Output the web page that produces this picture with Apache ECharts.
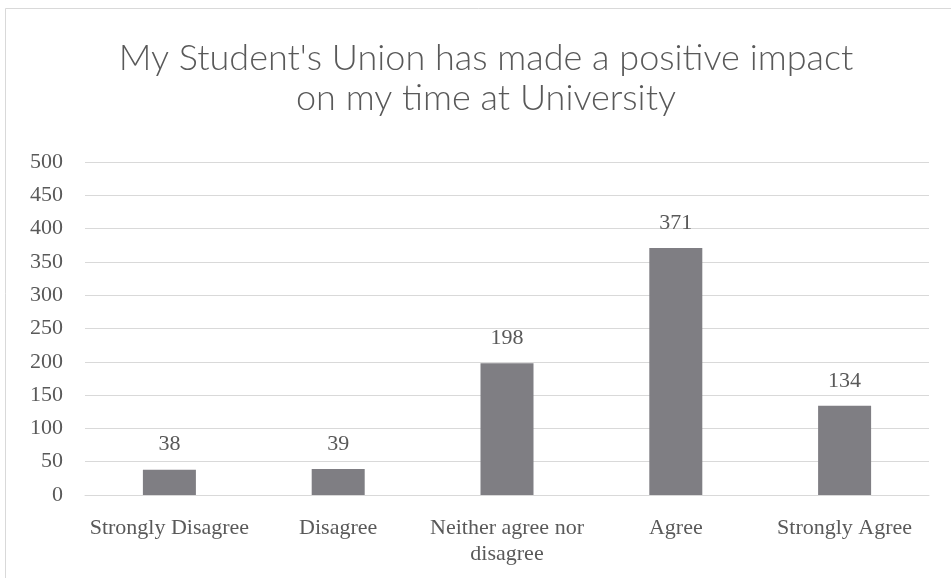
<!DOCTYPE html>
<html><head><meta charset="utf-8">
<script src="https://cdn.jsdelivr.net/npm/echarts@6/dist/echarts.min.js"></script>
<style>html,body{margin:0;padding:0;background:#fff;}#c{width:951px;height:578px;}</style>
</head><body><div id="c"></div>
<script>
const categories = ['Strongly Disagree', 'Disagree', 'Neither agree nor\ndisagree', 'Agree', 'Strongly Agree'];
const values = [38, 39, 198, 371, 134];
const titleText = "My Student's Union has made a positive impact\non my time at University";

const chart = echarts.init(document.getElementById('c'));
chart.setOption({
  backgroundColor: '#fff',
  animation: false,
  title: {
    text: titleText, left: 481, top: 33, textAlign: 'center',
    textStyle: { fontFamily: 'Lato, "Noto Sans", sans-serif', fontWeight: 300, fontSize: 36, color: '#595959', lineHeight: 40 }
  },
  graphic: [{ type: 'rect', shape: { x: 5.5, y: 8.5, width: 1200, height: 1200 }, style: { fill: 'none', stroke: '#d9d9d9', lineWidth: 1 }, silent: true }],
  grid: { left: 85, right: 22, top: 162, bottom: 83 },
  xAxis: {
    type: 'category', data: categories,
    axisLine: { lineStyle: { color: '#d9d9d9' } },
    axisTick: { show: false },
    axisLabel: { interval: 0, fontFamily: '"Liberation Serif", serif', fontSize: 22, color: '#595959', margin: 20, lineHeight: 26 }
  },
  yAxis: {
    type: 'value', min: 0, max: 500, interval: 50,
    axisLine: { show: false }, axisTick: { show: false },
    splitLine: { lineStyle: { color: '#d9d9d9', width: 1 } },
    axisLabel: { fontFamily: '"Liberation Serif", serif', fontSize: 22, color: '#595959', margin: 22 }
  },
  series: [{
    type: 'bar', data: values, barWidth: '31.4%',
    itemStyle: { color: '#7f7e83' },
    label: { show: true, position: 'top', distance: 14, fontFamily: '"Liberation Serif", serif', fontSize: 22, color: '#595959' }
  }]
});
</script></body></html>
